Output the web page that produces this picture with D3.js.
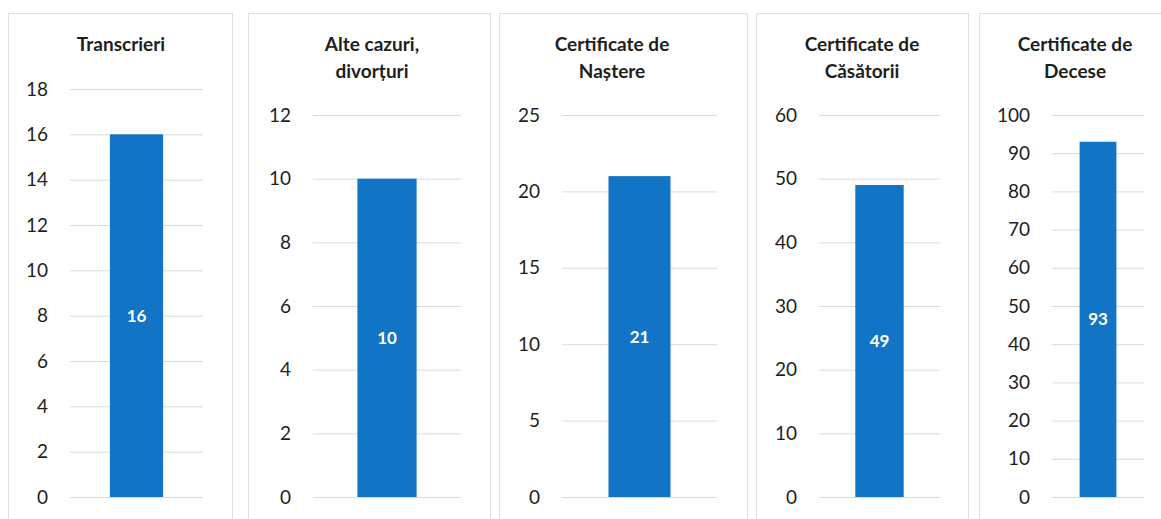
<!DOCTYPE html>
<html>
<head>
<meta charset="utf-8">
<script src="https://cdn.jsdelivr.net/npm/d3@7"></script>
<style>
  body { margin: 0; background: #fff; }
  svg { display: block; font-family: Lato, "Open Sans", sans-serif; }
</style>
</head>
<body>
<script>
// chart data
const titles = [["Transcrieri"], ["Alte cazuri,", "divorțuri"], ["Certificate de", "Naștere"],
                ["Certificate de", "Căsătorii"], ["Certificate de", "Decese"]];
const category = ["2020"];
const values = [16, 10, 21, 49, 93];
const axisMax = [18, 12, 25, 60, 100];
const tickStep = [2, 2, 5, 10, 10];

// layout of each little chart (pixels)
const boxes = [[8, 232], [248, 490], [499, 747], [756, 968], [979, 1175]];
const plotX = [[70, 203], [313, 461], [562, 717], [819, 940], [1052, 1144]];
const plotTop = [89, 115, 115, 115, 115];
const titleX = [121, 372, 612, 862, 1075];
const plotBottom = 497;

const svg = d3.select("body").append("svg")
    .attr("width", 1161)
    .attr("height", 519);

titles.forEach(function(t, i) {
  const g = svg.append("g");

  // panel frame
  g.append("rect")
    .attr("x", boxes[i][0] + 0.5)
    .attr("y", 13.5)
    .attr("width", boxes[i][1] - boxes[i][0])
    .attr("height", 540)
    .attr("fill", "none")
    .attr("stroke", "#dedee9")
    .attr("stroke-width", 1);

  const x = d3.scaleBand()
      .domain(category)
      .range(plotX[i])
      .paddingInner(0.6)
      .paddingOuter(0.3);
  const y = d3.scaleLinear()
      .domain([0, axisMax[i]])
      .range([plotBottom, plotTop[i]]);

  // title
  g.append("text")
    .attr("text-anchor", "middle")
    .style("font-weight", "700")
    .style("font-size", "19px")
    .style("fill", "#1e1e1e")
    .selectAll("tspan")
    .data(t)
    .enter().append("tspan")
      .attr("x", titleX[i])
      .attr("y", function(d, k) { return 51 + k * 27; })
      .text(function(d) { return d; });

  // axis with gridlines
  const axis = d3.axisLeft(y)
      .tickValues(d3.range(0, axisMax[i] + 0.001, tickStep[i]))
      .tickSize(-(plotX[i][1] - plotX[i][0]))
      .tickPadding(22);
  const ax = g.append("g")
      .attr("transform", "translate(" + plotX[i][0] + ",0)")
      .call(axis);
  ax.select(".domain").remove();
  ax.selectAll(".tick line").attr("stroke", "#d9d9e6");
  ax.selectAll(".tick text")
    .style("font-family", "Lato, 'Open Sans', sans-serif")
    .style("font-size", "19px")
    .attr("fill", "#1e1e1e");

  // bar
  g.append("rect")
    .attr("x", x(category[0]))
    .attr("y", y(values[i]))
    .attr("width", x.bandwidth())
    .attr("height", y(0) - y(values[i]))
    .attr("fill", "#1174c4");

  // value label
  g.append("text")
    .attr("x", x(category[0]) + x.bandwidth() / 2)
    .attr("y", y(values[i] / 2))
    .attr("dy", "0.35em")
    .attr("text-anchor", "middle")
    .style("font-weight", "700")
    .style("font-size", "17px")
    .style("fill", "#fff")
    .text(values[i]);
});
</script>
</body>
</html>
